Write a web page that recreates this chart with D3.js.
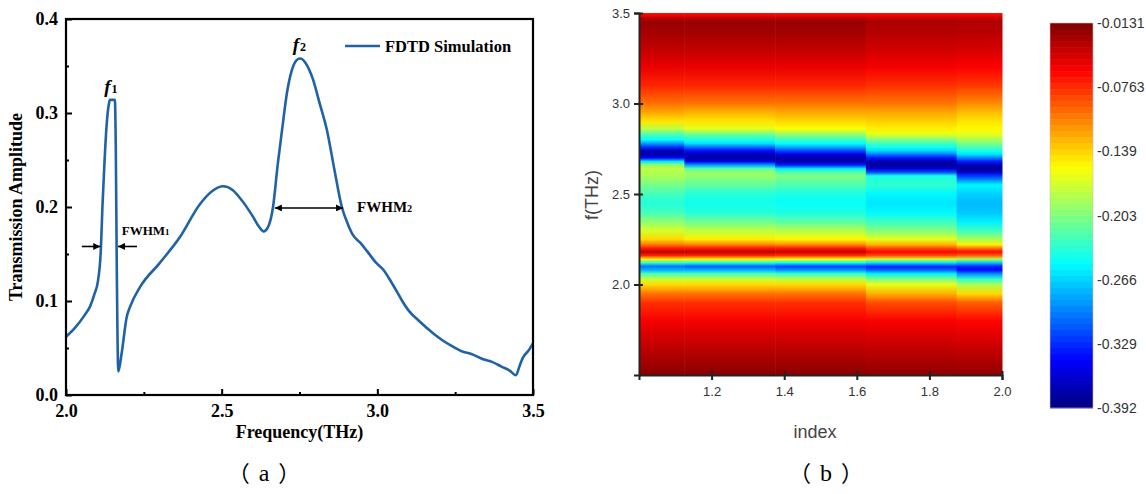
<!DOCTYPE html>
<html>
<head>
<meta charset="utf-8">
<script src="https://cdn.jsdelivr.net/npm/d3@7"></script>
<style>
body { margin: 0; background: #fff; }
svg { display: block; }
</style>
</head>
<body>
<svg id="chart" width="1146" height="494"></svg>
<script>
// ---- (a) FDTD transmission spectrum ----
const freqA = [2.000, 2.030, 2.060, 2.077, 2.092, 2.103, 2.112, 2.117, 2.124, 2.130, 2.138, 2.141, 2.157, 2.160, 2.163, 2.168,
    2.179, 2.195, 2.206, 2.238, 2.300, 2.366, 2.430, 2.470, 2.505, 2.535, 2.560, 2.600, 2.620, 2.635, 2.648, 2.665,
    2.680, 2.694, 2.710, 2.725, 2.740, 2.752, 2.770, 2.793, 2.815, 2.838, 2.862, 2.886, 2.905, 2.922, 2.945, 2.967,
    2.995, 3.020, 3.045, 3.063, 3.080, 3.100, 3.130, 3.160, 3.185, 3.210, 3.240, 3.275, 3.300, 3.340, 3.370, 3.400,
    3.425, 3.445, 3.458, 3.468, 3.485, 3.500];
const ampA = [0.062, 0.072, 0.085, 0.094, 0.108, 0.122, 0.155, 0.200, 0.250, 0.285, 0.310, 0.314, 0.314, 0.260, 0.140, 0.025,
    0.045, 0.083, 0.094, 0.115, 0.140, 0.168, 0.203, 0.217, 0.222, 0.218, 0.209, 0.190, 0.179, 0.174, 0.178, 0.200,
    0.245, 0.282, 0.322, 0.345, 0.356, 0.358, 0.353, 0.336, 0.310, 0.282, 0.240, 0.200, 0.182, 0.170, 0.162, 0.153,
    0.141, 0.133, 0.120, 0.110, 0.100, 0.090, 0.080, 0.071, 0.064, 0.058, 0.052, 0.046, 0.044, 0.038, 0.035, 0.030,
    0.026, 0.021, 0.032, 0.040, 0.047, 0.055];
const xTicksA = [2.0, 2.5, 3.0, 3.5];
const xMinorA = [2.25, 2.75, 3.25];
const yTicksA = [0.0, 0.1, 0.2, 0.3, 0.4];
const yMinorA = [0.05, 0.15, 0.25, 0.35];

// ---- (b) transmission map, one column per index ----
const indexB = [1.0, 1.25, 1.5, 1.75, 2.0];
const freqB = [1.50, 1.60, 1.70, 1.80, 1.90, 1.95, 2.00, 2.03, 2.06, 2.08, 2.10, 2.12, 2.14, 2.16, 2.18, 2.20,
    2.22, 2.25, 2.30, 2.35, 2.40, 2.45, 2.50, 2.55, 2.60, 2.62, 2.64, 2.66, 2.68, 2.70, 2.72, 2.74,
    2.76, 2.78, 2.80, 2.83, 2.86, 2.90, 2.95, 3.00, 3.10, 3.20, 3.30, 3.40, 3.45, 3.47, 3.49, 3.50];
const col1 = [-0.017, -0.030, -0.043, -0.057, -0.078, -0.104, -0.142, -0.176, -0.225, -0.278, -0.301, -0.233, -0.150, -0.074, -0.036, -0.070,
    -0.104, -0.142, -0.172, -0.199, -0.225, -0.237, -0.225, -0.206, -0.187, -0.184, -0.180, -0.195, -0.259, -0.347, -0.377, -0.369,
    -0.324, -0.286, -0.248, -0.222, -0.180, -0.146, -0.123, -0.102, -0.074, -0.053, -0.038, -0.026, -0.023, -0.032, -0.062, -0.066];
const col2 = [-0.017, -0.030, -0.043, -0.057, -0.078, -0.104, -0.142, -0.176, -0.225, -0.278, -0.309, -0.240, -0.153, -0.074, -0.036, -0.070,
    -0.108, -0.150, -0.180, -0.210, -0.237, -0.244, -0.237, -0.214, -0.195, -0.195, -0.218, -0.286, -0.354, -0.377, -0.369, -0.339,
    -0.301, -0.259, -0.240, -0.210, -0.165, -0.146, -0.127, -0.104, -0.074, -0.053, -0.038, -0.026, -0.023, -0.032, -0.062, -0.066];
const col3 = [-0.017, -0.030, -0.043, -0.057, -0.078, -0.104, -0.142, -0.180, -0.233, -0.290, -0.320, -0.248, -0.157, -0.078, -0.040, -0.070,
    -0.112, -0.153, -0.184, -0.218, -0.240, -0.248, -0.240, -0.222, -0.203, -0.218, -0.256, -0.335, -0.373, -0.377, -0.354, -0.316,
    -0.278, -0.248, -0.229, -0.195, -0.157, -0.142, -0.123, -0.104, -0.074, -0.053, -0.038, -0.026, -0.023, -0.032, -0.062, -0.066];
const col4 = [-0.019, -0.032, -0.045, -0.059, -0.089, -0.127, -0.165, -0.203, -0.256, -0.309, -0.331, -0.259, -0.172, -0.089, -0.059, -0.089,
    -0.127, -0.165, -0.203, -0.229, -0.252, -0.259, -0.252, -0.233, -0.240, -0.316, -0.362, -0.381, -0.373, -0.335, -0.297, -0.263,
    -0.244, -0.225, -0.203, -0.165, -0.150, -0.138, -0.123, -0.104, -0.078, -0.057, -0.043, -0.032, -0.030, -0.036, -0.062, -0.066];
const col5 = [-0.019, -0.034, -0.047, -0.062, -0.096, -0.142, -0.187, -0.233, -0.293, -0.343, -0.331, -0.271, -0.184, -0.096, -0.062, -0.104,
    -0.150, -0.187, -0.229, -0.256, -0.271, -0.275, -0.267, -0.252, -0.324, -0.362, -0.384, -0.373, -0.335, -0.293, -0.259, -0.240,
    -0.222, -0.203, -0.187, -0.165, -0.153, -0.146, -0.131, -0.112, -0.081, -0.060, -0.045, -0.034, -0.032, -0.036, -0.062, -0.066];
const columnsB = [col1, col2, col3, col4, col5];
const xTicksB = [1.2, 1.4, 1.6, 1.8, 2.0];
const yTicksB = [2.0, 2.5, 3.0, 3.5];
const cbMin = -0.392;
const cbMax = -0.0131;
const cbLabels = ['-0.0131', '-0.0763', '-0.139', '-0.203', '-0.266', '-0.329', '-0.392'];

const serif = '"Times New Roman", "Liberation Serif", serif';
const sans = 'Arial, "Liberation Sans", sans-serif';
const cjk = '"Noto Sans CJK SC", "Noto Sans CJK JP", sans-serif';
const svg = d3.select('#chart');

// ---------- panel (a) ----------
const x = d3.scaleLinear().domain([2, 3.5]).range([66, 533]);
const y = d3.scaleLinear().domain([0, 0.4]).range([395, 19]);

const defs = svg.append('defs');
defs.append('marker')
    .attr('id', 'head')
    .attr('viewBox', '0 0 10 10')
    .attr('refX', 10).attr('refY', 5)
    .attr('markerWidth', 8).attr('markerHeight', 7)
    .attr('markerUnits', 'userSpaceOnUse')
    .attr('orient', 'auto-start-reverse')
    .append('path').attr('d', 'M0,0 L10,5 L0,10 z').attr('fill', '#000');

const line = d3.line()
    .x(function (d, i) { return x(freqA[i]); })
    .y(function (d) { return y(d); })
    .curve(d3.curveMonotoneX);

svg.append('path')
    .datum(ampA)
    .attr('d', line)
    .attr('fill', 'none')
    .attr('stroke', '#1f62a6')
    .attr('stroke-width', 2.6)
    .attr('stroke-linejoin', 'round');

// axes (ticks point inward)
const gx = svg.append('g').attr('transform', 'translate(0,' + y(0) + ')')
    .call(d3.axisBottom(x).tickValues(xTicksA).tickSize(-6).tickPadding(9).tickFormat(d3.format('.1f')));
svg.append('g').attr('transform', 'translate(0,' + y(0) + ')')
    .call(d3.axisBottom(x).tickValues(xMinorA).tickSize(-3).tickFormat(''));
const gy = svg.append('g').attr('transform', 'translate(' + x(2) + ',0)')
    .call(d3.axisLeft(y).tickValues(yTicksA).tickSize(-6).tickPadding(8).tickFormat(d3.format('.1f')));
svg.append('g').attr('transform', 'translate(' + x(2) + ',0)')
    .call(d3.axisLeft(y).tickValues(yMinorA).tickSize(-3).tickFormat(''));

svg.selectAll('g .domain').remove();
svg.selectAll('g .tick line').attr('stroke', '#000').attr('stroke-width', 2);
[gx, gy].forEach(function (g) {
    g.selectAll('text')
        .attr('font-family', serif)
        .attr('font-weight', 'bold')
        .attr('font-size', 18)
        .attr('fill', '#000');
});

svg.append('rect')
    .attr('x', x(2)).attr('y', y(0.4))
    .attr('width', x(3.5) - x(2)).attr('height', y(0) - y(0.4))
    .attr('fill', 'none').attr('stroke', '#000').attr('stroke-width', 2.2);

svg.append('text')
    .attr('transform', 'translate(22,' + y(0.2) + ') rotate(-90)')
    .attr('text-anchor', 'middle')
    .attr('font-family', serif).attr('font-weight', 'bold').attr('font-size', 18)
    .text('Transmission Amplitude');

svg.append('text')
    .attr('x', (x(2) + x(3.5)) / 2).attr('y', 438)
    .attr('text-anchor', 'middle')
    .attr('font-family', serif).attr('font-weight', 'bold').attr('font-size', 18)
    .text('Frequency(THz)');

// legend
svg.append('line')
    .attr('x1', 345).attr('x2', 380).attr('y1', 46).attr('y2', 46)
    .attr('stroke', '#1f62a6').attr('stroke-width', 2.6);
svg.append('text')
    .attr('x', 385).attr('y', 52)
    .attr('font-family', serif).attr('font-weight', 'bold').attr('font-size', 16.5)
    .text('FDTD Simulation');

// peak labels
function peakLabel(px, py, sub) {
    const t = svg.append('text').attr('x', px).attr('y', py)
        .attr('font-family', serif).attr('font-weight', 'bold');
    t.append('tspan').attr('font-style', 'italic').attr('font-size', 19).text('f');
    t.append('tspan').attr('font-size', 12).attr('dx', 1).text(sub);
}
peakLabel(x(2.123), y(0.321), '1');
peakLabel(x(2.728), y(0.366), '2');

// FWHM arrows
function arrow(f0, f1, a, both) {
    const l = svg.append('line')
        .attr('x1', x(f0)).attr('x2', x(f1)).attr('y1', y(a)).attr('y2', y(a))
        .attr('stroke', '#000').attr('stroke-width', 1.6)
        .attr('marker-end', 'url(#head)');
    if (both) l.attr('marker-start', 'url(#head)');
}
arrow(2.051, 2.110, 0.158, false);
arrow(2.228, 2.167, 0.158, false);
arrow(2.671, 2.890, 0.199, true);

function fwhm(px, py, size, sub) {
    const t = svg.append('text').attr('x', px).attr('y', py)
        .attr('font-family', serif).attr('font-weight', 'bold').attr('font-size', size);
    t.append('tspan').text('FWHM');
    t.append('tspan').attr('font-size', size * 0.68).text(sub);
}
fwhm(x(2.179), 235, 13, '1');
fwhm(x(2.935), 212, 15, '2');

// panel captions with full-width brackets
function caption(cx, letter) {
    const t = svg.append('text')
        .attr('x', cx).attr('y', 481)
        .attr('text-anchor', 'middle')
        .attr('font-size', 22);
    t.append('tspan').attr('font-family', cjk).text('（');
    t.append('tspan').attr('font-family', '"Liberation Serif", serif').attr('font-size', 24).attr('dx', 9).text(letter);
    t.append('tspan').attr('font-family', cjk).attr('dx', 9).text('）');
}
caption(264, 'a');

// ---------- panel (b) ----------
const xb = d3.scaleLinear().domain([1, 2]).range([639, 1002]);
const yb = d3.scaleLinear().domain([1.5, 3.5]).range([375, 13]);

const jetT = [0, 0.125, 0.375, 0.625, 0.875, 1];
const jet = d3.scaleLinear()
    .domain(jetT.map(function (t) { return cbMin + t * (cbMax - cbMin); }))
    .range(['#00007f', '#0000ff', '#00ffff', '#ffff00', '#ff0000', '#7f0000'])
    .clamp(true);

columnsB.forEach(function (vals, i) {
    const grad = defs.append('linearGradient')
        .attr('id', 'col' + i)
        .attr('gradientUnits', 'userSpaceOnUse')
        .attr('x1', 0).attr('x2', 0)
        .attr('y1', yb(1.5)).attr('y2', yb(3.5));
    grad.selectAll('stop')
        .data(vals)
        .enter()
        .append('stop')
        .attr('offset', function (d, j) { return (yb(1.5) - yb(freqB[j])) / (yb(1.5) - yb(3.5)); })
        .attr('stop-color', function (d) { return jet(d); });

    const lo = i === 0 ? indexB[0] : (indexB[i - 1] + indexB[i]) / 2;
    const hi = i === indexB.length - 1 ? indexB[i] : (indexB[i] + indexB[i + 1]) / 2;
    svg.append('rect')
        .attr('x', xb(lo)).attr('y', yb(3.5))
        .attr('width', xb(hi) - xb(lo) + 0.5)
        .attr('height', yb(1.5) - yb(3.5))
        .attr('fill', 'url(#col' + i + ')');
});

const gyb = svg.append('g').attr('transform', 'translate(' + xb(1) + ',0)')
    .call(d3.axisLeft(yb).tickValues(yTicksB).tickSize(5).tickPadding(4).tickFormat(d3.format('.1f')));
gyb.selectAll('.tick line').attr('x1', 4);
const gxb = svg.append('g').attr('transform', 'translate(0,' + yb(1.5) + ')')
    .call(d3.axisBottom(xb).tickValues(xTicksB).tickSize(5).tickPadding(7).tickFormat(d3.format('.1f')));
gxb.selectAll('.tick line').attr('y1', -4);
[gyb, gxb].forEach(function (g) {
    g.select('.domain').attr('stroke', '#222').attr('stroke-width', 2);
    g.selectAll('.tick line').attr('stroke', '#222').attr('stroke-width', 2);
    g.selectAll('text').attr('font-family', sans).attr('font-size', 13).attr('fill', '#333');
});

svg.append('text')
    .attr('transform', 'translate(598,195) rotate(-90)')
    .attr('text-anchor', 'middle')
    .attr('font-family', sans).attr('font-size', 18).attr('fill', '#444')
    .text('f(THz)');
svg.append('text')
    .attr('x', 815).attr('y', 438)
    .attr('text-anchor', 'middle')
    .attr('font-family', sans).attr('font-size', 18).attr('fill', '#444')
    .text('index');

// colour bar
const cb = d3.scaleLinear().domain([cbMin, cbMax]).range([408, 23]);
const nBands = 64;
svg.append('g')
    .selectAll('rect')
    .data(d3.range(nBands))
    .enter()
    .append('rect')
    .attr('x', 1050)
    .attr('y', function (k) { return cb(cbMin + (k + 1) * (cbMax - cbMin) / nBands); })
    .attr('width', 43)
    .attr('height', function (k) { return cb(cbMin + k * (cbMax - cbMin) / nBands) - cb(cbMin + (k + 1) * (cbMax - cbMin) / nBands) + 0.4; })
    .attr('fill', function (k) { return jet(cbMin + (k + 0.5) * (cbMax - cbMin) / nBands); });
svg.append('rect')
    .attr('x', 1050).attr('y', 23).attr('width', 43).attr('height', 385)
    .attr('fill', 'none').attr('stroke', '#d9b8b8').attr('stroke-width', 0.6);

svg.append('g')
    .selectAll('text')
    .data(cbLabels)
    .enter()
    .append('text')
    .attr('x', 1097)
    .attr('y', function (d) { return cb(+d); })
    .attr('dy', '0.35em')
    .attr('font-family', sans).attr('font-size', 14).attr('fill', '#333')
    .text(function (d) { return d; });

caption(826, 'b');
</script>
</body>
</html>
